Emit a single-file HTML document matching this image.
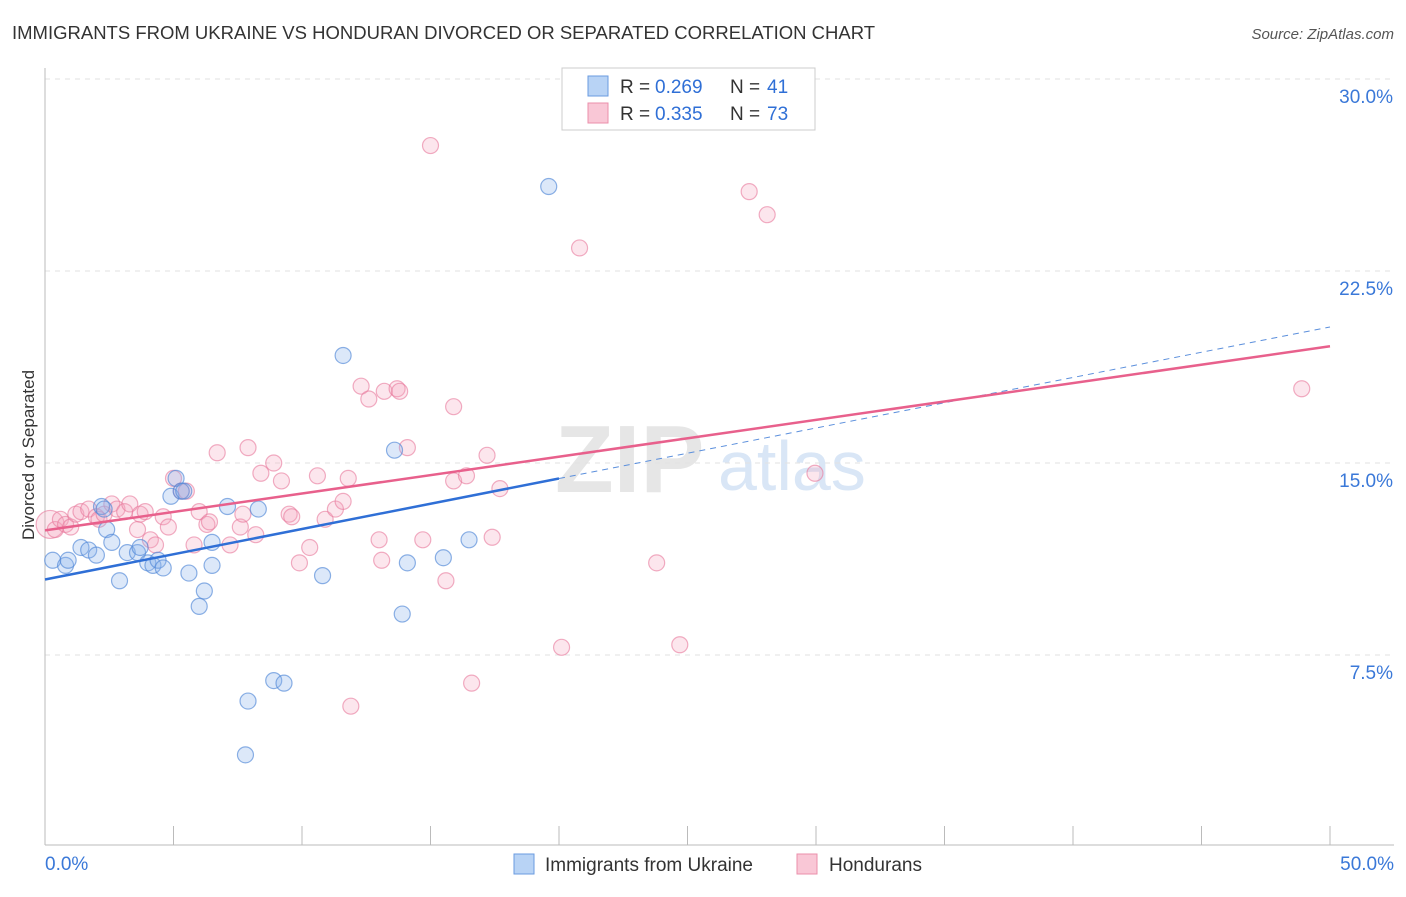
<!DOCTYPE html>
<html><head><meta charset="utf-8"><style>
body{margin:0;background:#fff;font-family:"Liberation Sans",sans-serif}
svg text{font-family:"Liberation Sans",sans-serif}
</style></head><body>
<svg id="c" width="1406" height="892" xmlns="http://www.w3.org/2000/svg">
<text x="12" y="39" font-size="18.5" fill="#333">IMMIGRANTS FROM UKRAINE VS HONDURAN DIVORCED OR SEPARATED CORRELATION CHART</text>
<text x="1394" y="39" font-size="15" fill="#555" font-style="italic" text-anchor="end">Source: ZipAtlas.com</text>
<text x="555" y="492" font-size="96" fill="#e6e6e6" font-family="Liberation Serif" font-weight="bold">ZIP</text>
<text x="718" y="490" font-size="70" fill="#d9e6f6">atlas</text>
<text transform="translate(34,455) rotate(-90)" font-size="17" fill="#333" text-anchor="middle">Divorced or Separated</text>
<g id="grid"></g><g id="pts"></g><g id="lines"></g>
<g>
<rect x="562" y="68" width="253" height="62" fill="#fff" stroke="#ccc"/>
<rect x="588" y="76" width="20" height="20" fill="#b8d3f5" stroke="#6a9be0"/>
<rect x="588" y="103" width="20" height="20" fill="#f9c7d6" stroke="#eb8fab"/>
<text x="620" y="93" font-size="19" fill="#333">R =</text><text x="655" y="93" font-size="19" fill="#2f6fd6">0.269</text>
<text x="730" y="93" font-size="19" fill="#333">N =</text><text x="767" y="93" font-size="19" fill="#2f6fd6">41</text>
<text x="620" y="120" font-size="19" fill="#333">R =</text><text x="655" y="120" font-size="19" fill="#2f6fd6">0.335</text>
<text x="730" y="120" font-size="19" fill="#333">N =</text><text x="767" y="120" font-size="19" fill="#2f6fd6">73</text>
</g>
<g>
<rect x="514" y="854" width="20" height="20" fill="#b8d3f5" stroke="#6a9be0"/>
<text x="545" y="871" font-size="19" fill="#333">Immigrants from Ukraine</text>
<rect x="797" y="854" width="20" height="20" fill="#f9c7d6" stroke="#eb8fab"/>
<text x="829" y="871" font-size="19" fill="#333">Hondurans</text>
</g>
</svg>
<script>
const yTicks=[7.5,15,22.5,30];
const xTickLabels=["0.0%","50.0%"];
const blueX=[0.3,0.8,0.9,1.4,1.7,2.0,2.2,2.4,2.6,2.9,3.2,3.6,3.7,4.0,4.2,4.4,4.6,4.9,5.1,5.3,5.6,6.0,6.2,6.5,6.5,7.1,7.9,7.8,8.3,8.9,9.3,10.8,11.6,13.6,13.9,14.1,15.5,16.5,19.6,5.4,2.3];
const blueY=[11.2,11.0,11.2,11.7,11.6,11.4,13.3,12.4,11.9,10.4,11.5,11.5,11.7,11.1,11.0,11.2,10.9,13.7,14.4,13.9,10.7,9.4,10.0,11.9,11.0,13.3,5.7,3.6,13.2,6.5,6.4,10.6,19.2,15.5,9.1,11.1,11.3,12.0,25.8,13.9,13.2];
const pinkX=[0.2,0.4,0.6,0.8,1.0,1.2,1.4,1.7,2.0,2.1,2.3,2.6,2.8,3.1,3.3,3.6,3.7,3.9,4.1,4.3,4.6,4.8,5.0,5.3,5.5,5.8,6.0,6.3,6.4,6.7,7.2,7.6,7.7,7.9,8.2,8.4,8.9,9.2,9.5,9.6,9.9,10.3,10.6,10.9,11.3,11.6,11.8,11.9,12.3,12.6,13.0,13.1,13.2,13.7,13.8,14.1,14.7,15.0,15.6,15.9,15.9,16.4,16.6,17.2,17.4,17.7,20.1,20.8,23.8,24.7,27.4,28.1,29.96,48.9];
const pinkY=[12.6,12.4,12.8,12.6,12.5,13.0,13.1,13.2,12.9,12.8,13.0,13.4,13.2,13.1,13.4,12.4,13.0,13.1,12.0,11.8,12.9,12.5,14.4,13.9,13.9,11.8,13.1,12.6,12.7,15.4,11.8,12.5,13.0,15.6,12.2,14.6,15.0,14.3,13.0,12.9,11.1,11.7,14.5,12.8,13.2,13.5,14.4,5.5,18.0,17.5,12.0,11.2,17.8,17.9,17.8,15.6,12.0,27.4,10.4,17.2,14.3,14.5,6.4,15.3,12.1,14.0,7.8,23.4,11.1,7.9,25.6,24.7,14.6,17.9];
const NS="http://www.w3.org/2000/svg";
const X0=45,X1=1330,Y0=847;
function sx(v){return X0+(X1-X0)*v/50;}
function sy(v){return Y0-v*192/7.5;}
function mk(t,a,p){const e=document.createElementNS(NS,t);for(const k in a)e.setAttribute(k,a[k]);p.appendChild(e);return e;}
const grid=document.getElementById('grid');
yTicks.forEach(v=>{
 const l=mk('line',{x1:X0,x2:1394,y1:sy(v),y2:sy(v),stroke:'#e2e2e2','stroke-dasharray':'5,5'},grid);
 
 
 const t=mk('text',{x:1393,y:sy(v)+24,'font-size':19,fill:'#3a78d8','text-anchor':'end'},grid);
 t.textContent=v.toFixed(1)+'%';
 
 
});
mk('line',{x1:X0,x2:X0,y1:68,y2:845,stroke:'#bbb'},grid);
mk('line',{x1:X0,x2:1394,y1:845,y2:845,stroke:'#bbb'},grid);
for(let i=0;i<=10;i++){const x=X0+i*128.5;mk('line',{x1:x,x2:x,y1:826,y2:845,stroke:'#bbb'},grid);}
xTickLabels.forEach((s,i)=>{
 const t=mk('text',{x:i?1394:45,y:870,'font-size':19,fill:'#3a78d8','text-anchor':i?'end':'start'},grid);
 t.textContent=s;
 
 
});
const pts=document.getElementById('pts');
pinkX.forEach((x,i)=>{
 const c=mk('circle',{cx:sx(x),cy:sy(pinkY[i]),r:i==0?14:8,fill:'rgba(245,165,190,0.28)',stroke:'rgba(232,120,155,0.6)','stroke-width':1.2},pts);
 
 
});
blueX.forEach((x,i)=>{
 const c=mk('circle',{cx:sx(x),cy:sy(blueY[i]),r:8,fill:'rgba(140,180,235,0.3)',stroke:'rgba(80,135,215,0.65)','stroke-width':1.2},pts);
 
 
});
function fit(xs,ys){const n=xs.length;let mx=0,my=0;xs.forEach((v,i)=>{mx+=v;my+=ys[i];});mx/=n;my/=n;let a=0,b=0;xs.forEach((v,i)=>{a+=(v-mx)*(ys[i]-my);b+=(v-mx)*(v-mx);});const s=a/b;return [s,my-s*mx];}
const lines=document.getElementById('lines');
const bf=fit(blueX,blueY),pf=fit(pinkX,pinkY);
let l=mk('line',{x1:sx(20),y1:sy(bf[1]+bf[0]*20),x2:sx(50),y2:sy(bf[1]+bf[0]*50),stroke:'#5b8fdc','stroke-width':1,'stroke-dasharray':'6,5'},lines);


l=mk('line',{x1:sx(0),y1:sy(bf[1]),x2:sx(20),y2:sy(bf[1]+bf[0]*20),stroke:'#2f6fd6','stroke-width':2.5},lines);


l=mk('line',{x1:sx(0),y1:sy(pf[1]),x2:sx(50),y2:sy(pf[1]+pf[0]*50),stroke:'#e8608c','stroke-width':2.5},lines);


</script>
</body></html>
